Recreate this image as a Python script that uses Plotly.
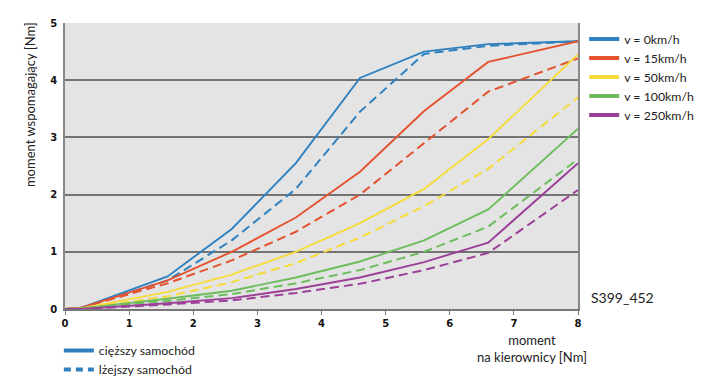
import plotly.graph_objects as go

x_vals = [0, 0.25, 1.6, 2.6, 3.6, 4.6, 5.6, 6.6, 8]

speeds = ["v = 0km/h", "v = 15km/h", "v = 50km/h", "v = 100km/h", "v = 250km/h"]
colors = ["#2f80bf", "#e5522f", "#f6dc3a", "#6dbd5c", "#9c3f98"]

heavy_0 = [0, 0.02, 0.57, 1.40, 2.55, 4.04, 4.50, 4.63, 4.68]
heavy_15 = [0, 0.02, 0.50, 1.00, 1.60, 2.40, 3.46, 4.32, 4.68]
heavy_50 = [0, 0.01, 0.30, 0.60, 1.00, 1.50, 2.10, 2.97, 4.45]
heavy_100 = [0, 0.01, 0.18, 0.32, 0.55, 0.83, 1.20, 1.74, 3.15]
heavy_250 = [0, 0.0, 0.10, 0.19, 0.35, 0.55, 0.82, 1.16, 2.55]

light_0 = [0, 0.02, 0.50, 1.20, 2.10, 3.45, 4.46, 4.60, 4.68]
light_15 = [0, 0.02, 0.45, 0.85, 1.35, 2.00, 2.90, 3.80, 4.38]
light_50 = [0, 0.01, 0.22, 0.47, 0.80, 1.25, 1.80, 2.45, 3.70]
light_100 = [0, 0.01, 0.14, 0.26, 0.45, 0.68, 1.00, 1.44, 2.62]
light_250 = [0, 0.0, 0.08, 0.15, 0.28, 0.44, 0.68, 0.98, 2.08]

heavy = [heavy_0, heavy_15, heavy_50, heavy_100, heavy_250]
light = [light_0, light_15, light_50, light_100, light_250]

x_ticks = [0, 1, 2, 3, 4, 5, 6, 7, 8]
y_ticks = [0, 1, 2, 3, 4, 5]

fig = go.Figure()

for i in range(5):
    fig.add_trace(go.Scatter(x=x_vals, y=light[i], mode="lines",
                             line=dict(color=colors[i], width=2, dash="9px,5px"),
                             showlegend=False, hoverinfo="skip"))
for i in range(5):
    fig.add_trace(go.Scatter(x=x_vals, y=heavy[i], mode="lines",
                             line=dict(color=colors[i], width=1.9),
                             showlegend=False, hoverinfo="skip"))

# legend entries for speeds
for i in range(5):
    fig.add_trace(go.Scatter(x=[None], y=[None], mode="lines", name=speeds[i],
                             line=dict(color=colors[i], width=4), legend="legend"))

# legend entries for vehicle weight
fig.add_trace(go.Scatter(x=[None], y=[None], mode="lines", name="cięższy samochód",
                         line=dict(color=colors[0], width=4), legend="legend2"))
fig.add_trace(go.Scatter(x=[None], y=[None], mode="lines", name="lżejszy samochód",
                         line=dict(color=colors[0], width=4, dash="7px,5px"), legend="legend2"))

font_family = "Lato, 'Open Sans', sans-serif"

fig.update_layout(
    width=716, height=376,
    margin=dict(l=57, r=146, t=15, b=75, autoexpand=False),
    paper_bgcolor="white",
    plot_bgcolor="#e4e4e5",
    font=dict(family=font_family, size=12, color="#222"),
    xaxis=dict(range=[0, 8], tickvals=x_ticks, ticks="outside", ticklen=4,
               tickcolor="#777", tickwidth=1, showgrid=False, zeroline=False,
               showline=True, linecolor="#777", linewidth=1.5,
               tickfont=dict(family="DejaVu Sans", size=10, color="#111", weight="bold")),
    yaxis=dict(range=[0, 5], tickvals=y_ticks, showgrid=True, gridcolor="#737373",
               gridwidth=1.5, zeroline=False, showline=True, mirror=True,
               linecolor="#888", linewidth=1.5, ticks="", ticklabelstandoff=4,
               tickfont=dict(family="DejaVu Sans", size=10, color="#111", weight="bold")),
    legend=dict(x=1.012, y=0.995, xanchor="left", yanchor="top",
                font=dict(size=12.3, family=font_family, color="#222"),
                bgcolor="rgba(0,0,0,0)", tracegroupgap=0, itemwidth=30,
                traceorder="normal"),
    legend2=dict(x=-0.012, y=-0.094, xanchor="left", yanchor="top",
                 font=dict(size=12.3, family=font_family, color="#222"),
                 bgcolor="rgba(0,0,0,0)", itemwidth=30),
    showlegend=True,
    annotations=[
        dict(text="moment wspomagający [Nm]", textangle=-90, x=0, y=0.713,
             xref="paper", yref="paper", xanchor="center", yanchor="middle",
             xshift=-35, showarrow=False,
             font=dict(size=13, family=font_family, color="#222")),
        dict(text="moment<br>na kierownicy [Nm]", x=8, y=0, xref="x", yref="y",
             xanchor="right", yanchor="top", yshift=-21, xshift=11, align="center",
             showarrow=False, font=dict(size=13, family=font_family, color="#222")),
        dict(text="S399_452", x=1.0, y=0.04, xref="paper", yref="paper",
             xanchor="left", yanchor="middle", xshift=11, showarrow=False,
             font=dict(size=14, family=font_family, color="#222")),
    ],
)

fig.write_html("out.html")
